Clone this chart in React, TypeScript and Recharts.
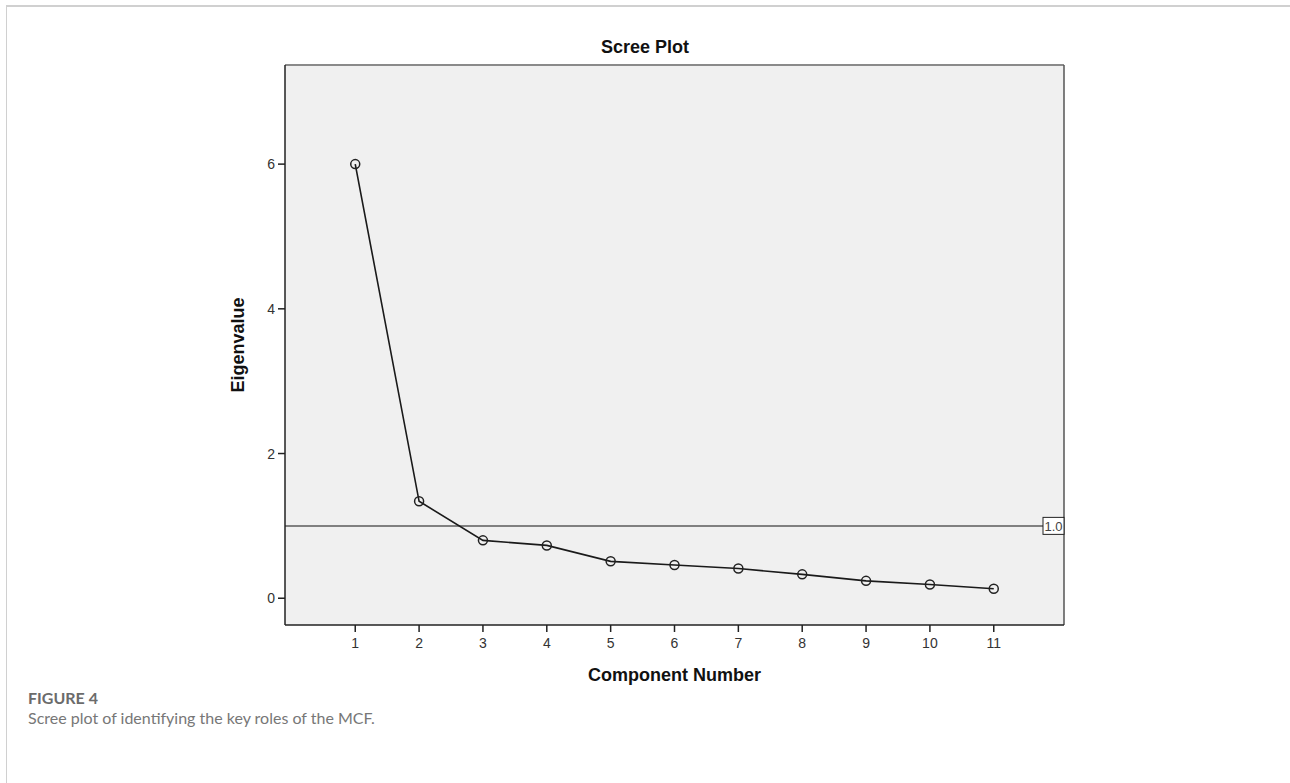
import React from "react"
import { CartesianGrid, Label, Line, LineChart, ReferenceLine, XAxis, YAxis } from "recharts"

const components = [1, 2, 3, 4, 5, 6, 7, 8, 9, 10, 11]
const eigenvalues = [6.0, 1.34, 0.8, 0.73, 0.51, 0.46, 0.41, 0.33, 0.24, 0.19, 0.13]
const yTicks = [0, 2, 4, 6]
const cutoff = 1.0
const xDomain = [-0.1, 12.1]
const yDomain = [-0.37, 7.37]

const data = components.map((c, i) => ({ component: c, eigenvalue: eigenvalues[i] }))

const axisFont = "'Liberation Sans', Arial, sans-serif"

function CutoffLabel(props: any) {
    const { viewBox } = props
    const right = viewBox.x + viewBox.width
    const cy = viewBox.y
    return (
        <g>
            <rect x={right - 21} y={cy - 8.5} width={21} height={17} fill="#ffffff" stroke="#222" strokeWidth={1} />
            <text x={right - 10.5} y={cy + 5} textAnchor="middle" fontSize={13} fill="#444" fontFamily={axisFont}>
                1.0
            </text>
        </g>
    )
}

function XTick(props: any) {
    const { x, y, payload } = props
    return (
        <text x={x} y={y + 13} textAnchor="middle" fontSize={14} fill="#333" fontFamily={axisFont}>
            {payload.value}
        </text>
    )
}

function YTick(props: any) {
    const { x, y, payload } = props
    return (
        <text x={x} y={y + 5} textAnchor="end" fontSize={14} fill="#333" fontFamily={axisFont}>
            {payload.value}
        </text>
    )
}

export default function App() {
    return (
        <div style={{ position: "absolute", left: 0, top: 0, width: 1290, height: 783, background: "#fff", overflow: "hidden" }}>
            <div style={{ position: "absolute", left: 6, top: 5, width: 1284, height: 2, background: "#d0d0d0" }} />
            <div style={{ position: "absolute", left: 6, top: 5, width: 1, height: 778, background: "#d0d0d0" }} />

            <div
                style={{
                    position: "absolute",
                    left: 545,
                    width: 200,
                    top: 37,
                    textAlign: "center",
                    fontFamily: axisFont,
                    fontWeight: "bold",
                    fontSize: 18,
                    color: "#111",
                }}
            >
                Scree Plot
            </div>

            <div style={{ position: "absolute", left: 0, top: 0 }}>
                <LineChart
                    width={1290}
                    height={783}
                    data={data}
                    margin={{ top: 65, right: 226, bottom: 88, left: 195 }}
                >
                    <CartesianGrid fill="#f0f0f0" horizontal={false} vertical={false} />
                    <XAxis
                        dataKey="component"
                        type="number"
                        domain={xDomain}
                        ticks={components}
                        interval={0}
                        height={70}
                        tickSize={7}
                        tickMargin={3}
                        axisLine={{ stroke: "#222", strokeWidth: 1.5 }}
                        tickLine={{ stroke: "#222", strokeWidth: 1.5 }}
                        tick={<XTick />}
                    >
                        <Label
                            value="Component Number"
                            position="insideBottom"
                            offset={14}
                            fill="#111"
                            fontSize={18}
                            fontWeight="bold"
                            fontFamily={axisFont}
                        />
                    </XAxis>
                    <YAxis
                        type="number"
                        domain={yDomain}
                        ticks={yTicks}
                        interval={0}
                        width={90}
                        tickSize={7}
                        tickMargin={3}
                        axisLine={{ stroke: "#222", strokeWidth: 1.5 }}
                        tickLine={{ stroke: "#222", strokeWidth: 1.5 }}
                        tick={<YTick />}
                    >
                        <Label
                            value="Eigenvalue"
                            position="center"
                            angle={-90}
                            dx={-2}
                            fill="#111"
                            fontSize={18}
                            fontWeight="bold"
                            fontFamily={axisFont}
                        />
                    </YAxis>
                    <ReferenceLine y={yDomain[1]} stroke="#8a8a8a" strokeWidth={2} />
                    <ReferenceLine x={xDomain[1]} stroke="#555" strokeWidth={1.5} />
                    <ReferenceLine y={cutoff} stroke="#808080" strokeWidth={2} label={<CutoffLabel />} />
                    <Line
                        type="linear"
                        dataKey="eigenvalue"
                        stroke="#1a1a1a"
                        strokeWidth={1.6}
                        dot={{ r: 4.5, stroke: "#222", strokeWidth: 1.5, fill: "none" }}
                        activeDot={false}
                        isAnimationActive={false}
                    />
                </LineChart>
            </div>

            <div
                style={{
                    position: "absolute",
                    left: 28,
                    top: 688,
                    fontFamily: "Lato, 'Open Sans', sans-serif",
                    fontSize: 16,
                    lineHeight: "20px",
                }}
            >
                <div style={{ fontWeight: "bold", color: "#6b6b6b" }}>FIGURE 4</div>
                <div style={{ color: "#777" }}>Scree plot of identifying the key roles of the MCF.</div>
            </div>
        </div>
    )
}
